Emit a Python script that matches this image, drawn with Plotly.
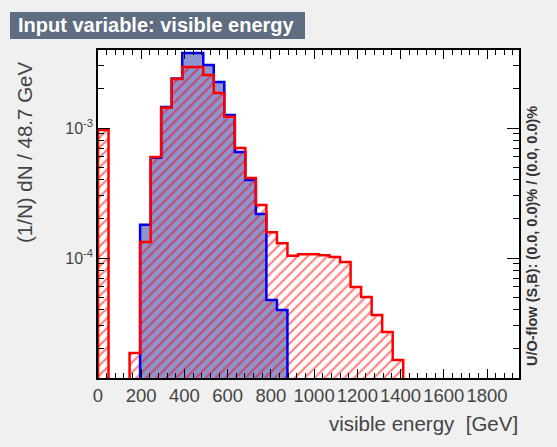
import plotly.graph_objects as go

# ---- data ----
bin_width = 48.7
n_bins = 40
bin_edges = [i * bin_width for i in range(n_bins + 1)]

signal_vals = [0, 0, 0, 0, 1.80e-4, 5.9e-4, 1.45e-3, 2.40e-3, 3.78e-3, 3.78e-3,
               3.05e-3, 2.26e-3, 1.26e-3, 6.54e-4, 3.98e-4, 2.18e-4, 4.75e-5, 3.98e-5, 0, 0,
               0, 0, 0, 0, 0, 0, 0, 0, 0, 0,
               0, 0, 0, 0, 0, 0, 0, 0, 0, 0]
background_vals = [9.66e-4, 0, 0, 1.86e-5, 1.33e-4, 5.98e-4, 1.43e-3, 2.38e-3, 2.95e-3, 2.95e-3,
                   2.56e-3, 1.86e-3, 1.22e-3, 7.02e-4, 4.12e-4, 2.56e-4, 1.58e-4, 1.30e-4, 1.04e-4, 1.07e-4,
                   1.07e-4, 1.05e-4, 1.02e-4, 9.31e-5, 5.98e-5, 5.01e-5, 3.64e-5, 2.70e-5, 1.64e-5, 0,
                   0, 0, 0, 0, 0, 0, 0, 0, 0, 0]

x_tick_vals = [0, 200, 400, 600, 800, 1000, 1200, 1400, 1600, 1800]
x_tick_text = [str(v) for v in x_tick_vals]
y_tick_vals = [1e-4, 1e-3]
y_tick_text = ["10<sup>-4</sup>", "10<sup>-3</sup>"]
y_minor_vals = [k * 1e-5 for k in range(2, 10)] + [k * 1e-4 for k in range(2, 10)] + [k * 1e-3 for k in range(2, 4)]

title_text = "Input variable: visible energy"
x_title = "visible energy \u00a0[GeV]"
y_title = "(1/N) dN / 48.7 GeV"
flow_text = "U/O-flow (S,B): (0.0, 0.0)% / (0.0, 0.0)%"

# ---- helpers ----
centers = [(bin_edges[i] + bin_edges[i + 1]) / 2 for i in range(n_bins)]
TINY = 1e-9


def bar_vals(v):
    return [x if x > 0 else None for x in v]


def step_xy(v):
    xs = [bin_edges[0]]
    ys = [TINY]
    for i in range(n_bins):
        xs.append(bin_edges[i])
        ys.append(v[i] if v[i] > 0 else TINY)
    xs.append(bin_edges[-1])
    ys.append(v[-1] if v[-1] > 0 else TINY)
    xs.append(bin_edges[-1])
    ys.append(TINY)
    return xs, ys


FONT = "Liberation Sans, Arial, Helvetica, sans-serif"
BLUE_FILL = "#8d94d0"
BLUE_LINE = "#0000ee"
RED = "#ff0000"

# plot frame in pixels
L, R, T, B = 98, 519, 50, 378
W, H = R - L, B - T


def px(x):
    return (x - L) / W


def py(y):
    return (B - y) / H


fig = go.Figure()

fig.add_trace(go.Bar(x=centers, y=bar_vals(signal_vals), width=bin_width,
                     marker=dict(color=BLUE_FILL, line=dict(width=0)),
                     showlegend=False, hoverinfo="skip"))
fig.add_trace(go.Bar(x=centers, y=bar_vals(background_vals), width=bin_width,
                     marker=dict(color="rgba(0,0,0,0)", line=dict(width=0),
                                 pattern=dict(shape="/", fgcolor=RED, bgcolor="rgba(0,0,0,0)",
                                              size=7, solidity=0.3)),
                     showlegend=False, hoverinfo="skip"))

sx, sy = step_xy(signal_vals)
fig.add_trace(go.Scatter(x=sx, y=sy, mode="lines", line=dict(color=BLUE_LINE, width=2.5, shape="hv"),
                         showlegend=False, hoverinfo="skip"))
bx, by = step_xy(background_vals)
fig.add_trace(go.Scatter(x=bx, y=by, mode="lines", line=dict(color=RED, width=2.5, shape="hv"),
                         showlegend=False, hoverinfo="skip"))

fig.update_layout(
    width=557, height=447,
    margin=dict(l=L, r=557 - R, t=T, b=447 - B),
    paper_bgcolor="#f0f0f0", plot_bgcolor="#ffffff",
    barmode="overlay", bargap=0,
    font=dict(family=FONT, color="#444444"),
    showlegend=False,
)

fig.update_xaxes(
    range=[0, n_bins * bin_width],
    tickmode="array", tickvals=x_tick_vals, ticktext=x_tick_text, tickangle=0,
    ticks="inside", ticklen=9, tickwidth=1, tickcolor="#000000",
    minor=dict(dtick=40, tick0=0, ticks="inside", ticklen=5, tickwidth=1, tickcolor="#000000", showgrid=False),
    showline=True, linecolor="#000000", linewidth=1.5, mirror="allticks",
    showgrid=False, zeroline=False,
    tickfont=dict(size=18.5, color="#444444", family=FONT),
)
fig.update_yaxes(
    type="log", range=[-4.923, -2.4],
    tickmode="array", tickvals=y_tick_vals, ticktext=y_tick_text,
    ticks="inside", ticklen=12, tickwidth=1, tickcolor="#000000",
    minor=dict(tickmode="array", tickvals=y_minor_vals, ticks="inside", ticklen=6, tickwidth=1,
               tickcolor="#000000", showgrid=False),
    showline=True, linecolor="#000000", linewidth=1.5, mirror="allticks",
    showgrid=False, zeroline=False,
    tickfont=dict(size=16, color="#444444", family=FONT),
)

# title box
fig.add_shape(type="rect", xref="paper", yref="paper",
              x0=px(10), x1=px(305), y0=py(39), y1=py(12),
              fillcolor="#5e6d80", line=dict(width=0), layer="above")
fig.add_annotation(text="<b>" + title_text + "</b>", xref="paper", yref="paper",
                   x=px(16), y=py(25.5), xanchor="left", yanchor="middle",
                   showarrow=False, font=dict(size=20, color="#ffffff", family=FONT))

# axis titles
fig.add_annotation(text=y_title, xref="paper", yref="paper",
                   x=px(24), y=py(153), xanchor="center", yanchor="middle",
                   textangle=-90, showarrow=False, font=dict(size=20.5, color="#444444", family=FONT))
fig.add_annotation(text=x_title, xref="paper", yref="paper",
                   x=px(520), y=py(424), xanchor="right", yanchor="middle",
                   showarrow=False, font=dict(size=20.5, color="#444444", family=FONT))
fig.add_annotation(text="<b>" + flow_text + "</b>", xref="paper", yref="paper",
                   x=px(532), y=py(236), xanchor="center", yanchor="middle",
                   textangle=-90, showarrow=False, font=dict(size=14.5, color="#333333", family=FONT))

fig.write_html("out.html")
